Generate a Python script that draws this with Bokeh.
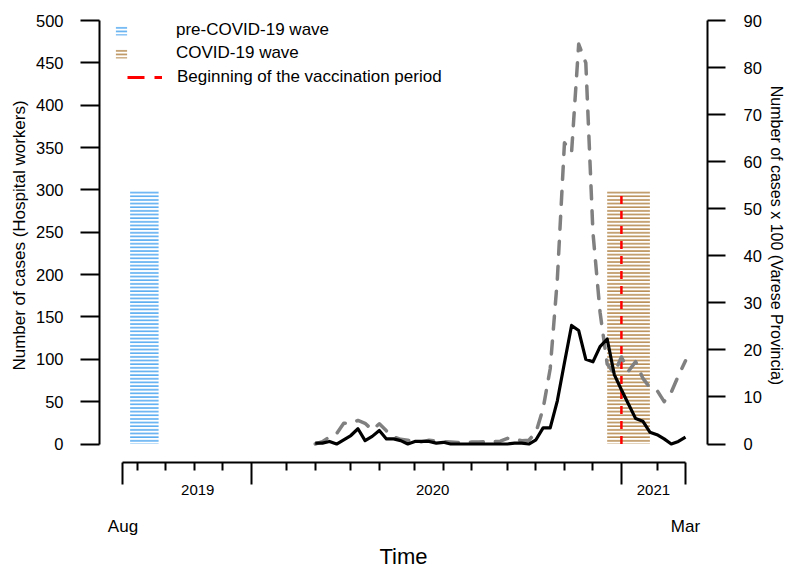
from bokeh.plotting import figure
from bokeh.models import Range1d, LinearAxis, FixedTicker, Legend, LegendItem
from bokeh.embed import file_html
from bokeh.resources import INLINE

FONT = "Liberation Sans"

# ---- data (x = week index, week 0 = start of Aug 2019) ----
weeks = list(range(27, 80))
hospital_workers = [1, 1, 3, 0, 5, 10, 18, 4, 9, 16,
                    6, 6, 4, 0, 3, 3, 3, 1, 2, 0,
                    0, 0, 0, 0, 0, 0, 0, 0, 1, 1,
                    0, 5, 19, 19, 51, 96, 140, 134, 100, 97,
                    115, 124, 82, 64, 47, 30, 27, 14, 11, 6,
                    0, 3, 8]
varese_x100 = [0, 0.5, 1.5, 2.2, 4.4, 4.4, 5.0, 4.4, 3.0, 4.3,
               2.8, 1.5, 1.0, 0.8, 0.5, 0.5, 0.8, 0.6, 0.5, 0.4,
               0.3, 0.3, 0.4, 0.4, 0.5, 0.5, 0.6, 1.2, 1.0, 0.7,
               0.8, 2.5, 7.5, 16, 35, 64, 62, 85, 81, 45,
               28, 17, 15, 18.5, 15.5, 17.5, 14, 12, 11.4, 9,
               11, 14.5, 17.7]

wave_names = ["pre-COVID-19 wave", "COVID-19 wave"]
wave_start = [1, 68]
wave_end = [5, 74]
wave_height = [300, 300]
vaccination_week = 70
vaccination_label = "Beginning of the vaccination period"

year_ticks = [0, 18, 70, 79]
month_ticks = [2, 6, 10, 14, 23, 27, 32, 36, 41, 45, 49, 54, 58, 62, 66, 75]
year_label_pos = [10.5, 43.5, 74.5]
year_labels = ["2019", "2020", "2021"]
end_label_pos = [0, 79]
end_labels = ["Aug", "Mar"]
left_ticks = [0, 50, 100, 150, 200, 250, 300, 350, 400, 450, 500]
right_ticks = [0, 10, 20, 30, 40, 50, 60, 70, 80, 90]

# ---- figure ----
W, H = 787, 572
Y_BOTTOM = -21.84
Y_TOP = 514.2
RIGHT_SCALE = 90 / 500
p = figure(width=W, height=H, output_backend="svg", toolbar_location=None,
           x_range=Range1d(-3.30, 82.09), y_range=Range1d(Y_BOTTOM, Y_TOP),
           min_border_left=99, min_border_right=80, min_border_top=8,
           min_border_bottom=110)
p.extra_y_ranges = {"varese": Range1d(Y_BOTTOM * RIGHT_SCALE, Y_TOP * RIGHT_SCALE)}
p.outline_line_color = None
p.grid.visible = False
p.background_fill_color = "white"
p.border_fill_color = "white"

# hatched wave periods
blue_r = p.quad(left=[wave_start[0]], right=[wave_end[0]], bottom=[0], top=[wave_height[0]],
                fill_color=None, line_color=None, hatch_pattern="horizontal_line",
                hatch_color="#3399EE", hatch_scale=3.65, hatch_weight=1.3)
brown_r = p.quad(left=[wave_start[1]], right=[wave_end[1]], bottom=[0], top=[wave_height[1]],
                 fill_color=None, line_color=None, hatch_pattern="horizontal_line",
                 hatch_color="#A87430", hatch_scale=3.65, hatch_weight=1.3)

# vaccination line
p.segment(x0=[vaccination_week], y0=[0], x1=[vaccination_week], y1=[wave_height[1]],
          line_color="red", line_width=2.5, line_dash="8 7")
nan = float("nan")
vacc_proxy = p.segment(x0=[nan], y0=[nan], x1=[nan], y1=[nan], line_color="red",
                       line_width=3, line_dash="17 10")

# series
p.line(weeks, varese_x100, y_range_name="varese", line_color="#808080", line_width=3.5,
       line_dash="13 12", line_cap="round", line_join="round")
p.line(weeks, hospital_workers, line_color="black", line_width=3.2, line_join="round")

AX_W = 2

def style_ticks(ax):
    ax.axis_line_width = AX_W
    ax.axis_line_color = "black"
    ax.major_tick_line_width = AX_W
    ax.major_tick_line_color = "black"
    ax.minor_tick_line_width = AX_W
    ax.minor_tick_line_color = "black"
    ax.major_tick_in = 0
    ax.minor_tick_in = 0
    ax.major_label_text_font = FONT
    ax.major_label_text_color = "black"
    ax.axis_label_text_font = FONT
    ax.axis_label_text_color = "black"
    ax.axis_label_text_font_style = "normal"

# left axis
yax = p.yaxis[0]
style_ticks(yax)
yax.ticker = FixedTicker(ticks=left_ticks)
yax.bounds = (left_ticks[0], left_ticks[-1])
yax.major_tick_out = 19
yax.minor_tick_out = 0
yax.major_label_standoff = 17
yax.major_label_text_font_size = "16.5px"
yax.axis_label = "Number of cases (Hospital workers)"
yax.axis_label_text_font_size = "17px"
yax.axis_label_standoff = 4

# right axis
rax = LinearAxis(y_range_name="varese", ticker=FixedTicker(ticks=right_ticks),
                 bounds=(right_ticks[0], right_ticks[-1]))
style_ticks(rax)
rax.major_tick_out = 18
rax.minor_tick_out = 0
rax.major_label_standoff = 18
rax.major_label_text_font_size = "16.5px"
rax.axis_label = "Number of cases x 100 (Varese Provincia)"
rax.axis_label_text_font_size = "16px"
rax.axis_label_standoff = 3
p.add_layout(rax, "right")

# bottom axis 1: tick marks only
xax = p.xaxis[0]
style_ticks(xax)
xax.ticker = FixedTicker(ticks=year_ticks, minor_ticks=month_ticks)
xax.bounds = (year_ticks[0], year_ticks[-1])
xax.major_tick_out = 22
xax.minor_tick_out = 8
xax.major_label_text_color = None

# bottom axis 2: year labels
ax_year = LinearAxis(ticker=FixedTicker(ticks=year_label_pos),
                     major_label_overrides=dict(zip(year_label_pos, year_labels)))
style_ticks(ax_year)
ax_year.axis_line_color = None
ax_year.major_tick_line_color = None
ax_year.minor_tick_line_color = None
ax_year.major_tick_out = 0
ax_year.minor_tick_out = 0
ax_year.major_label_standoff = 0
ax_year.major_label_text_font_size = "15px"
p.add_layout(ax_year, "below")

# bottom axis 3: Aug / Mar and title
ax_end = LinearAxis(ticker=FixedTicker(ticks=end_label_pos),
                    major_label_overrides=dict(zip(end_label_pos, end_labels)))
style_ticks(ax_end)
ax_end.axis_line_color = None
ax_end.major_tick_line_color = None
ax_end.minor_tick_line_color = None
ax_end.major_tick_out = 0
ax_end.minor_tick_out = 0
ax_end.major_label_standoff = 19
ax_end.major_label_text_font_size = "17px"
ax_end.axis_label = "Time"
ax_end.axis_label_text_font_size = "22px"
ax_end.axis_label_standoff = 5
p.add_layout(ax_end, "below")

# legends
common = dict(padding=0, margin=0, border_line_color=None, background_fill_alpha=0,
              label_text_font=FONT, label_text_font_size="17px", label_text_color="black",
              label_height=20, spacing=3)
legA = Legend(items=[LegendItem(label=wave_names[0], renderers=[blue_r]),
                     LegendItem(label=wave_names[1], renderers=[brown_r])],
              location=(15, 399), glyph_width=14, glyph_height=11, label_standoff=48, **common)
legB = Legend(items=[LegendItem(label=vaccination_label, renderers=[vacc_proxy])],
              location=(28, 375), glyph_width=35, glyph_height=20, label_standoff=15, **common)
p.add_layout(legA)
p.add_layout(legB)

open("out.html", "w").write(file_html(p, INLINE))
